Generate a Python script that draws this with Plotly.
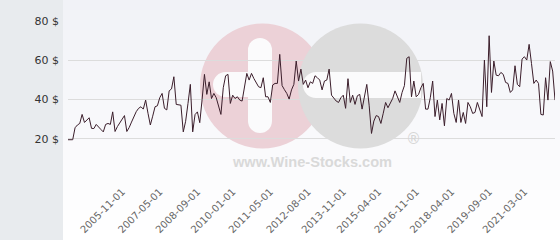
import plotly.graph_objects as go

# ---- data ----
prices = [
    19.5, 19.5, 19.5, 25.6, 27.0, 27.8, 32.4, 28.3, 29.5, 30.7, 25.3, 25.2, 27.3, 25.8, 24.7, 23.5,
    27.3, 27.8, 27.3, 33.7, 23.7, 26.2, 28.0, 29.6, 31.8, 23.7, 25.7, 28.5, 31.3, 33.8, 35.5, 36.3,
    35.1, 39.7, 33.0, 27.0, 31.5, 36.3, 36.8, 40.9, 43.1,
    35.5, 34.7, 44.4, 45.4, 51.6, 37.5, 37.3, 37.1, 23.5, 28.9, 38.0, 47.7, 23.5, 32.3, 33.7, 28.2,
    40.0, 52.8, 42.6, 49.0, 40.5, 43.1, 40.9, 36.5, 32.4, 46.0, 52.1, 52.8, 38.0, 42.2, 40.5, 41.4,
    39.7, 39.2, 46.0, 53.3, 49.9, 53.3, 50.7, 48.2, 46.5,
    46.0, 51.1, 41.4, 41.4, 38.5, 47.4, 48.2, 48.2, 63.0, 47.1, 45.0, 43.1, 40.2, 44.9, 47.7, 59.6,
    49.4, 55.5, 47.7, 49.9, 46.0, 49.0, 48.2, 52.1, 51.1, 49.9, 44.9, 49.4, 49.9, 55.5, 42.2, 40.5,
    39.2, 38.5, 40.9, 42.2, 35.5, 50.6, 38.5, 42.2, 37.5,
    41.9, 42.6, 35.1, 42.0, 47.7, 37.1, 22.7, 29.0, 31.8, 31.3, 27.8, 33.0, 38.5, 35.8, 38.0, 40.5,
    44.4, 40.9, 38.5, 43.6, 47.1, 61.0, 61.8, 41.4, 49.4, 41.4, 42.6, 46.0, 48.2, 35.1, 35.1, 40.9,
    49.4, 31.3, 39.7, 29.6, 38.0, 26.6, 40.5, 39.7, 43.1,
    32.9, 28.3, 39.7, 28.3, 33.4, 27.8, 38.5, 36.3, 32.9, 33.4, 38.5, 34.6, 31.3, 60.1, 36.3, 72.5,
    43.6, 59.6, 52.4, 52.1, 53.8, 52.8, 48.7, 48.2, 43.6, 44.9, 57.2, 47.7, 46.5, 60.6, 61.8, 60.1,
    68.1, 58.4, 48.2, 49.9, 48.2, 32.4, 32.1, 51.1, 39.7, 59.3, 54.5, 39.7,
]
tick_labels = ["2005-11-01", "2007-05-01", "2008-09-01", "2010-01-01", "2011-05-01", "2012-08-01",
               "2013-11-01", "2015-04-01", "2016-11-01", "2018-04-01", "2019-09-01", "2021-03-01"]
tick_index = [23, 39, 55, 70, 86, 102, 117, 132, 148, 163, 179, 194]
y_ticks = [0, 20, 40, 60, 80]
y_tick_text = ["", "20 $", "40 $", "60 $", "80 $"]

x_idx = list(range(len(prices)))

# ---- layout geometry ----
W, H = 560, 240
L, R, T, B = 68, 5, 21, 62
PW, PH = W - L - R, H - T - B


def px(x):
    return (x - L) / PW


def py(y):
    return (T + PH - y) / PH


shapes = []
# background gradient bands (light area)
top_c, bot_c = (241, 242, 247), (255, 255, 255)
nb = 24
for i in range(nb):
    f = i / (nb - 1)
    c = tuple(round(top_c[k] + (bot_c[k] - top_c[k]) * f) for k in range(3))
    shapes.append(dict(type="rect", xref="paper", yref="paper", x0=px(62), x1=px(W + 2),
                       y0=py(i * 10 + 10.5), y1=py(i * 10), fillcolor="rgb(%d,%d,%d)" % c,
                       line=dict(width=0), layer="below"))
# left grey panel
shapes.append(dict(type="rect", xref="paper", yref="paper", x0=px(-2), x1=px(63),
                   y0=py(H + 2), y1=py(-2), fillcolor="#e8ebee", line=dict(width=0), layer="below"))


def circ(cx, cy, r, color):
    return dict(type="circle", xref="paper", yref="paper", xsizemode="pixel", ysizemode="pixel",
                xanchor=px(cx), yanchor=py(cy), x0=-r, x1=r, y0=-r, y1=r,
                fillcolor=color, line=dict(width=0), layer="below")


def rect(x0, y0, x1, y1, color):
    return dict(type="rect", xref="paper", yref="paper", x0=px(x0), x1=px(x1),
                y0=py(y1), y1=py(y0), fillcolor=color, line=dict(width=0), layer="below")


hole = "#fbfbfc"
# watermark logo
shapes.append(circ(262.5, 86, 62.5, "#ecd1d7"))
shapes.append(rect(248, 50, 272, 121, hole))
shapes.append(circ(260, 50, 12, hole))
shapes.append(circ(260, 121, 12, hole))
shapes.append(rect(225.5, 72, 262, 97, hole))
shapes.append(circ(225.5, 84.5, 12.5, hole))
shapes.append(circ(360.5, 86, 62.5, "#dcdcdc"))
shapes.append(rect(316, 72, 421, 98, hole))
shapes.append(circ(316, 85, 13, hole))

fig = go.Figure()
fig.add_trace(go.Scatter(x=x_idx, y=prices, mode="lines",
                         line=dict(color="#3b1e2b", width=1), hoverinfo="skip"))

fig.update_layout(
    width=W, height=H, autosize=False,
    margin=dict(l=L, r=R, t=T, b=B, pad=0),
    paper_bgcolor="#ffffff", plot_bgcolor="rgba(0,0,0,0)",
    showlegend=False,
    shapes=shapes,
    font=dict(family="DejaVu Sans"),
    annotations=[
        dict(text="www.Wine-Stocks.com", xref="paper", yref="paper", x=px(311.5), y=py(162),
             xanchor="center", yanchor="middle", showarrow=False,
             font=dict(family="Liberation Sans", size=14.6, color="#d9d9d9", weight="bold")),
        dict(text="®", xref="paper", yref="paper", x=px(413), y=py(139),
             xanchor="center", yanchor="middle", showarrow=False,
             font=dict(family="DejaVu Sans", size=15, color="#d6d6d6")),
    ],
    xaxis=dict(range=[0, len(prices) - 1], tickmode="array", tickvals=tick_index, ticktext=tick_labels,
               tickangle=-45, showgrid=False, zeroline=False, showline=False, ticks="",
               ticklabelstandoff=5,
               tickfont=dict(size=10, color="#666666", family="DejaVu Sans"),
               fixedrange=True),
    yaxis=dict(range=[0, 80], tickmode="array", tickvals=y_ticks, ticktext=y_tick_text,
               showgrid=True, gridcolor="#dcdcdc", gridwidth=1, zeroline=False, showline=False,
               ticks="", ticklabelstandoff=8,
               tickfont=dict(size=11, color="#333333", family="DejaVu Sans"),
               fixedrange=True),
)

fig.write_html("out.html", config={"displayModeBar": False})
